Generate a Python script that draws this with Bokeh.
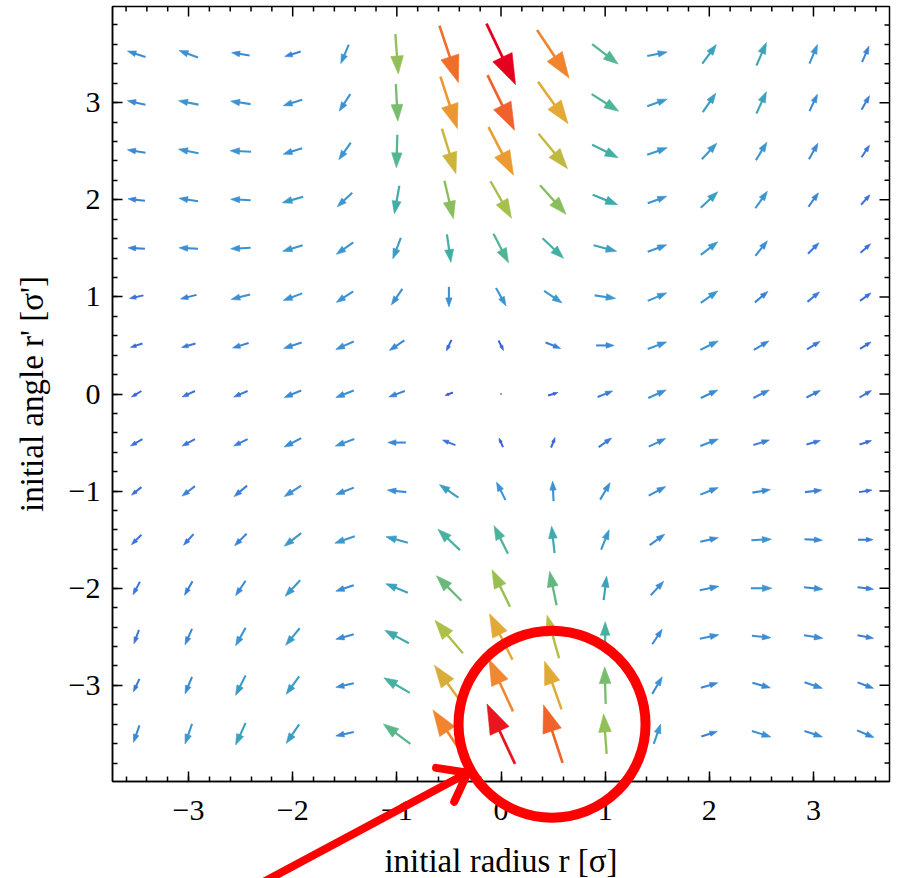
import numpy as np
from bokeh.plotting import figure
from bokeh.models import (Range1d, FixedTicker, ColumnDataSource, CustomJSTickFormatter)
from bokeh.transform import linear_cmap
from bokeh.embed import file_html
from bokeh.resources import INLINE

# ---------------- data ----------------
r_vals = [-3.5, -3.0, -2.5, -2.0, -1.5, -1.0, -0.5, 0.0, 0.5, 1.0, 1.5, 2.0, 2.5, 3.0, 3.5]
rp_vals = [3.5, 3.0, 2.5, 2.0, 1.5, 1.0, 0.5, 0.0, -0.5, -1.0, -1.5, -2.0, -2.5, -3.0, -3.5]

# horizontal component (towards +r), one row per r' value (top row first)
U = [
    [-18, -19, -18, -16, -8, 3, 19, 29, 32, 26, 20, 14, 10, 8, 7],
    [-18, -20, -20, -19, -11, 2, 17, 27, 30, 27, 20, 13, 10, 8, 8],
    [-18, -20, -21, -19, -12, -1, 14, 25, 29, 26, 20, 15, 11, 9, 8],
    [-17, -19, -20, -21, -15, -5, 9, 21, 26, 25, 19, 17, 12, 10, 9],
    [-17, -19, -20, -20, -17, -8, 4, 15, 21, 23, 19, 17, 12, 11, 10],
    [-14, -16, -19, -19, -17, -11, 0, 10, 18, 21, 19, 17, 13, 12, 11],
    [-12, -14, -16, -18, -18, -15, -5, 5, 15, 18, 19, 18, 15, 13, 11],
    [-10, -13, -14, -17, -18, -16, -8, 1.2, 10, 15, 18, 17, 16, 14, 12],
    [-12, -13, -14, -17, -19, -18, -13, -4, 4, 13, 17, 18, 16, 14, 12],
    [-10, -13, -13, -17, -18, -19, -19, -9, -1, 10, 17, 18, 18, 17, 13],
    [-10, -10, -12, -17, -20, -22, -22, -14, -3, 8, 15, 18, 20, 18, 15],
    [-7, -8, -10, -15, -18, -22, -25, -18, -7, 3, 13, 19, 21, 19, 16],
    [-5, -7, -10, -14, -18, -24, -28, -23, -12, 0, 10, 19, 19, 19, 16],
    [-6, -7, -10, -13, -18, -26, -29, -24, -17, -1, 10, 17, 18, 18, 16],
    [-6, -7, -10, -13, -18, -27, -32, -28, -19, -3, 7, 16, 19, 18, 17],
]
# vertical component (towards +r')
V = [
    [6, 7, 3, -5, -19, -40, -57, -61, -48, -20, 4, 19, 23, 19, 16],
    [4, 4, 3, -6, -17, -37, -52, -55, -42, -17, 7, 19, 22, 17, 14],
    [3, 4, 1, -6, -17, -33, -45, -48, -35, -13, 7, 16, 18, 16, 12],
    [2, 3, 1, -6, -14, -28, -38, -37, -29, -10, 7, 16, 17, 14, 10],
    [1, 1, -1, -6, -12, -21, -28, -29, -20, -6, 7, 13, 15, 11, 9],
    [-3, -4, -5, -7, -11, -16, -20, -18, -12, -3, 8, 12, 11, 10, 8],
    [-4, -4, -5, -6, -8, -10, -11, -10, -6, 0, 7, 9, 9, 8, 7],
    [-6, -6, -6, -7, -7, -6, -3, 0.4, 3, 6, 8, 8, 8, 7, 7],
    [-7, -7, -7, -9, -7, 0, 5, 9, 10, 9, 8, 7, 5, 4, 4],
    [-8, -10, -11, -11, -7, 2, 13, 18, 20, 17, 9, 7, 3, 2, 2],
    [-10, -11, -12, -13, -7, 6, 21, 28, 27, 20, 11, 4, 1, -1, 0],
    [-13, -14, -15, -16, -6, 9, 25, 37, 34, 24, 14, 4, 0, -2, -2],
    [-14, -16, -18, -17, -5, 13, 33, 46, 43, 30, 15, 4, -2, -3, -3],
    [-13, -17, -20, -18, -4, 15, 40, 52, 48, 37, 17, 5, -5, -6, -6],
    [-17, -20, -22, -19, -4, 20, 48, 60, 58, 40, 20, 5, -6, -6, -7],
]

major_ticks = [-3, -2, -1, 0, 1, 2, 3]
minor_ticks = [round(k * 0.2, 1) for k in range(-19, 20)]

# ---------------- layout / style ----------------
W, H = 897, 878
BL, BR, BT, BB = 112, 8, 6, 97
XR = (-3.73, 3.73)
YR = (-3.99, 3.99)
FW, FH = W - BL - BR, H - BT - BB
PXX = FW / (XR[1] - XR[0])
PXY = FH / (YR[1] - YR[0])

stops = [(0.00, "#9a2fa8"), (0.10, "#3a4fd8"), (0.22, "#3a78d8"), (0.30, "#3c93d2"),
         (0.38, "#3aa8b2"), (0.48, "#4fb496"), (0.57, "#84be60"), (0.64, "#aac048"),
         (0.70, "#cdb53c"), (0.78, "#e8a534"), (0.86, "#f2832e"), (0.92, "#ef5a2a"),
         (1.00, "#e4001e")]
def _hex(c):
    return [int(c[i:i + 2], 16) for i in (1, 3, 5)]
st = np.array([s[0] for s in stops])
rgb = np.array([_hex(s[1]) for s in stops], dtype=float)
tt = np.linspace(0, 1, 256)
palette = ["#%02x%02x%02x" % tuple(int(round(np.interp(t, st, rgb[:, k]))) for k in range(3)) for t in tt]

# ---------------- geometry of arrows ----------------
seg = dict(x0=[], y0=[], x1=[], y1=[], mag=[], lw=[])
head = dict(xs=[], ys=[], mag=[])
for i, Y in enumerate(rp_vals):
    for j, X in enumerate(r_vals):
        u, v = float(U[i][j]), float(V[i][j])
        L = float(np.hypot(u, v))
        if L == 0:
            continue
        dx, dy = u / L, v / L
        nx, ny = -dy, dx
        h = 0.45 * L
        w = 0.35 * h
        tipx, tipy = u / 2, v / 2
        bx, by = tipx - h * dx, tipy - h * dy
        sx, sy = bx + 0.3 * h * dx, by + 0.3 * h * dy
        seg["x0"].append(X - u / 2 / PXX)
        seg["y0"].append(Y - v / 2 / PXY)
        seg["x1"].append(X + sx / PXX)
        seg["y1"].append(Y + sy / PXY)
        seg["mag"].append(L)
        seg["lw"].append(1.8 + 0.014 * L)
        head["xs"].append([X + tipx / PXX, X + (bx + w * nx) / PXX, X + (bx - w * nx) / PXX])
        head["ys"].append([Y + tipy / PXY, Y + (by + w * ny) / PXY, Y + (by - w * ny) / PXY])
        head["mag"].append(L)

maxmag = max(seg["mag"])
cmap = linear_cmap("mag", palette, low=0, high=maxmag)

p = figure(frame_width=FW, frame_height=FH, x_range=Range1d(*XR), y_range=Range1d(*YR),
           output_backend="svg", toolbar_location=None,
           min_border_left=BL, min_border_right=BR, min_border_top=BT, min_border_bottom=BB)
p.background_fill_color = "white"
p.border_fill_color = "white"
p.grid.visible = False
p.outline_line_color = "black"
p.outline_line_width = 1.5

p.segment("x0", "y0", "x1", "y1", source=ColumnDataSource(seg), line_color=cmap,
          line_width="lw", line_cap="butt")
p.patches("xs", "ys", source=ColumnDataSource(head), fill_color=cmap, line_color=cmap,
          line_width=0.6)

# ticks on the top and right frame edges (mirroring the bottom/left axes)
MAJ_LEN, MIN_LEN = 10, 5
tick_src = dict(x0=[], y0=[], x1=[], y1=[])
for t in major_ticks + [m for m in minor_ticks if m not in major_ticks]:
    ln = MAJ_LEN if t in major_ticks else MIN_LEN
    if XR[0] < t < XR[1]:
        tick_src["x0"].append(t); tick_src["x1"].append(t)
        tick_src["y0"].append(YR[1]); tick_src["y1"].append(YR[1] - ln / PXY)
    if YR[0] < t < YR[1]:
        tick_src["y0"].append(t); tick_src["y1"].append(t)
        tick_src["x0"].append(XR[1]); tick_src["x1"].append(XR[1] - ln / PXX)
p.segment("x0", "y0", "x1", "y1", source=ColumnDataSource(tick_src),
          line_color="black", line_width=1.5)

FONT = "Liberation Serif"
fmt = CustomJSTickFormatter(code="return tick < 0 ? '\\u2212' + Math.abs(tick) : String(tick);")

def style_axis(ax):
    ax.ticker = FixedTicker(ticks=major_ticks, minor_ticks=minor_ticks)
    ax.major_tick_in = MAJ_LEN
    ax.major_tick_out = 0
    ax.minor_tick_in = MIN_LEN
    ax.minor_tick_out = 0
    ax.major_tick_line_color = "black"
    ax.minor_tick_line_color = "black"
    ax.major_tick_line_width = 1.5
    ax.minor_tick_line_width = 1.5
    ax.axis_line_color = "black"
    ax.axis_line_width = 1.5
    ax.formatter = fmt
    ax.major_label_text_font = FONT
    ax.major_label_text_font_size = "30px"
    ax.major_label_text_color = "black"
    ax.axis_label_text_font = FONT
    ax.axis_label_text_font_size = "33px"
    ax.axis_label_text_font_style = "normal"
    ax.axis_label_text_color = "black"

xa = p.xaxis[0]
style_axis(xa)
xa.axis_label = "initial radius r [σ]"
xa.major_label_standoff = 19
xa.axis_label_standoff = 20

ya = p.yaxis[0]
style_axis(ya)
ya.axis_label = "initial angle r' [σ']"
ya.major_label_standoff = 12
ya.axis_label_standoff = 16

# ---------------- red markup (transparent overlay over the whole page) ----------------
RED = "#ff0000"
OXR = (XR[0] - BL / PXX, XR[1] + BR / PXX)
OYR = (YR[0] - BB / PXY, YR[1] + BT / PXY)
ov = figure(frame_width=W, frame_height=H, x_range=Range1d(*OXR), y_range=Range1d(*OYR),
            output_backend="svg", toolbar_location=None,
            x_axis_location=None, y_axis_location=None,
            min_border=0, min_border_left=0, min_border_right=0,
            min_border_top=0, min_border_bottom=0,
            styles={"position": "absolute", "top": "0px", "left": "0px"})
ov.background_fill_color = None
ov.border_fill_color = None
ov.outline_line_color = None
ov.grid.visible = False

CIRC_CX, CIRC_CY, CIRC_R = 0.49, -3.40, 93.5
ov.scatter(x=[CIRC_CX], y=[CIRC_CY], size=2 * CIRC_R, marker="circle",
           fill_alpha=0, line_color=RED, line_width=10)

ARROW_START = (-2.29, -5.03)
ARROW_TIP = (-0.32, -3.90)
ARM_LEN, ARM_ANG = 32, np.radians(37)
bdx = (ARROW_START[0] - ARROW_TIP[0]) * PXX
bdy = (ARROW_START[1] - ARROW_TIP[1]) * PXY
bl = np.hypot(bdx, bdy)
bdx, bdy = bdx / bl, bdy / bl
ax0, ay0, ax1, ay1 = [ARROW_START[0]], [ARROW_START[1]], [ARROW_TIP[0]], [ARROW_TIP[1]]
for s in (1, -1):
    c, sn = np.cos(s * ARM_ANG), np.sin(s * ARM_ANG)
    rx, ry = bdx * c - bdy * sn, bdx * sn + bdy * c
    ax0.append(ARROW_TIP[0]); ay0.append(ARROW_TIP[1])
    ax1.append(ARROW_TIP[0] + ARM_LEN * rx / PXX); ay1.append(ARROW_TIP[1] + ARM_LEN * ry / PXY)
ov.segment(ax0, ay0, ax1, ay1, line_color=RED, line_width=8, line_cap="round")

open("out.html", "w").write(file_html([p, ov], INLINE))
